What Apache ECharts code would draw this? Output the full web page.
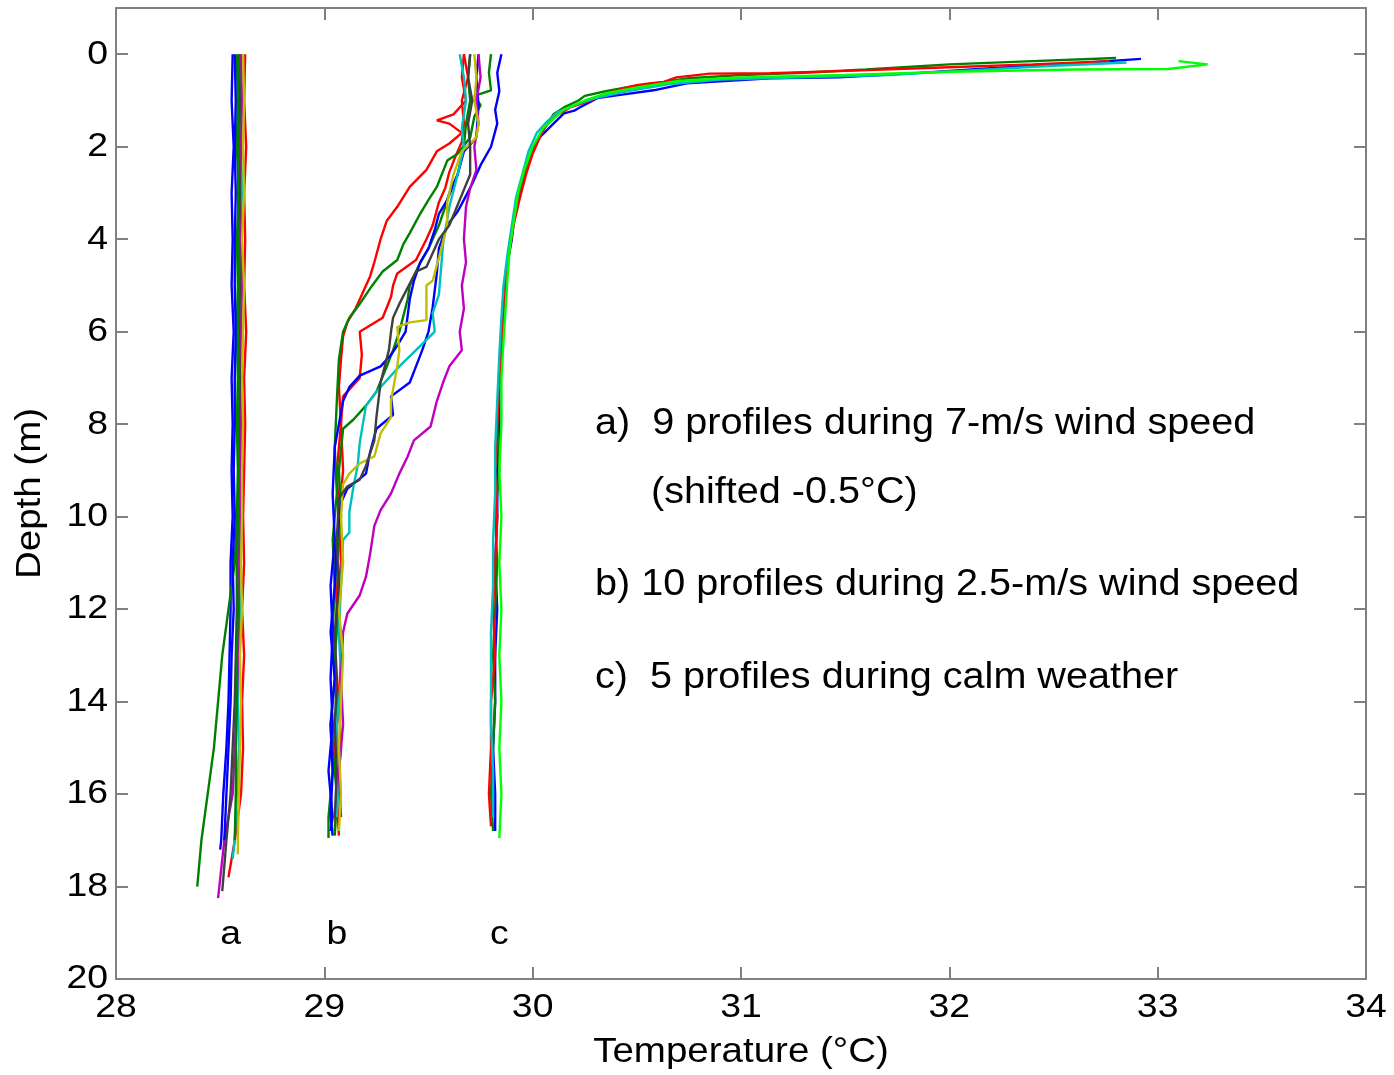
<!DOCTYPE html>
<html lang="en">
<head>
    <meta charset="UTF-8">
    <title>Temperature profiles</title>
    <script src="https://cdn.jsdelivr.net/npm/echarts@6.0.0/dist/echarts.min.js"></script>
    <style>
        html, body { margin: 0; padding: 0; background: #fff; }
    </style>
</head>
<body>
<div id="main" style="width: 1394px;height:1075px;"></div>
<script type="text/javascript">

    // ticks
    var xTicks = [28, 29, 30, 31, 32, 33, 34];
    var yTicks = [0, 2, 4, 6, 8, 10, 12, 14, 16, 18, 20];

    // a) 9 profiles, 7 m/s wind (shifted -0.5 C)  -- [temperature, depth]
    var a1 = [[28.56,0],[28.555,1],[28.565,2],[28.555,3],[28.56,4],[28.555,5],[28.565,6],[28.555,7],[28.56,8],[28.555,9],[28.56,10],[28.55,11],[28.55,12],[28.545,13],[28.54,14],[28.53,15],[28.515,16],[28.505,17],[28.5,17.2]];
    var a2 = [[28.58,0],[28.585,1],[28.58,2],[28.59,3],[28.58,4],[28.585,5],[28.58,6],[28.585,7],[28.58,8],[28.585,9],[28.58,10],[28.57,11],[28.54,12],[28.51,13],[28.49,14],[28.47,15],[28.44,16],[28.41,17],[28.39,18]];
    var a3 = [[28.62,0],[28.615,1],[28.625,2],[28.615,3],[28.62,4],[28.615,5],[28.625,6],[28.615,7],[28.62,8],[28.615,9],[28.61,10],[28.615,11],[28.605,12],[28.615,13],[28.605,14],[28.61,15],[28.6,16],[28.57,17],[28.54,17.8]];
    var a4 = [[28.6,0],[28.595,1],[28.6,2],[28.605,3],[28.595,4],[28.6,5],[28.595,6],[28.6,7],[28.6,8],[28.595,9],[28.6,10],[28.59,11],[28.595,12],[28.59,13],[28.585,14],[28.59,15],[28.58,16],[28.57,17],[28.56,17.4]];
    var a5 = [[28.6,0],[28.605,1],[28.6,2],[28.595,3],[28.6,4],[28.605,5],[28.6,6],[28.595,7],[28.6,8],[28.6,9],[28.595,10],[28.59,11],[28.59,12],[28.585,13],[28.58,14],[28.57,15],[28.56,16],[28.52,17],[28.49,18.25]];
    var a6 = [[28.61,0],[28.615,1],[28.61,2],[28.615,3],[28.605,4],[28.615,5],[28.61,6],[28.605,7],[28.61,8],[28.605,9],[28.605,10],[28.6,11],[28.605,12],[28.595,13],[28.6,14],[28.595,15],[28.59,16],[28.585,17],[28.585,17.3]];
    var a7 = [[28.59,0],[28.595,1],[28.59,2],[28.595,3],[28.59,4],[28.595,5],[28.59,6],[28.595,7],[28.59,8],[28.59,9],[28.585,10],[28.58,11],[28.58,12],[28.575,13],[28.57,14],[28.56,15],[28.55,16],[28.53,17],[28.51,18.1]];
    var a8 = [[28.57,0],[28.575,1],[28.57,2],[28.575,3],[28.57,4],[28.57,5],[28.575,6],[28.57,7],[28.57,8],[28.565,9],[28.57,10],[28.56,11],[28.565,12],[28.555,13],[28.55,14],[28.54,15],[28.53,16],[28.52,17]];
    var a9 = [[28.59,0],[28.585,1],[28.59,2],[28.585,3],[28.59,4],[28.59,5],[28.585,6],[28.59,7],[28.585,8],[28.59,9],[28.585,10],[28.58,11],[28.585,12],[28.58,13],[28.58,14],[28.575,15],[28.575,16],[28.57,17]];

    // b) 10 profiles, 2.5 m/s wind
    var b1 = [[29.67,0],[29.66,0.5],[29.68,1],[29.62,1.3],[29.54,1.43],[29.6,1.5],[29.66,1.7],[29.6,1.93],[29.54,2.1],[29.49,2.5],[29.41,2.87],[29.35,3.3],[29.3,3.6],[29.27,4.0],[29.24,4.5],[29.22,4.8],[29.18,5.2],[29.15,5.5],[29.11,5.8],[29.09,6.1],[29.08,6.6],[29.07,7.2],[29.08,8],[29.06,9],[29.07,10],[29.05,11],[29.06,12],[29.05,13],[29.07,14],[29.05,15],[29.06,16],[29.05,16.8]];
    var b2 = [[29.67,0],[29.69,0.5],[29.66,1],[29.67,1.5],[29.66,1.9],[29.63,2.2],[29.6,2.55],[29.58,2.9],[29.55,3.2],[29.52,3.7],[29.49,4.0],[29.44,4.45],[29.35,4.74],[29.33,5.0],[29.32,5.25],[29.28,5.7],[29.17,6.0],[29.18,6.5],[29.17,7.0],[29.09,7.4],[29.08,8],[29.09,9],[29.07,10],[29.08,11],[29.06,12],[29.08,13],[29.07,14],[29.08,15],[29.06,16],[29.07,16.9]];
    var b3 = [[29.8,0],[29.79,0.4],[29.8,0.78],[29.72,0.9],[29.75,1.1],[29.72,1.35],[29.7,1.8],[29.64,2.15],[29.59,2.3],[29.54,2.87],[29.5,3.15],[29.46,3.45],[29.41,3.87],[29.38,4.1],[29.35,4.45],[29.28,4.7],[29.23,5.0],[29.17,5.4],[29.12,5.7],[29.09,6.0],[29.07,6.6],[29.06,7.5],[29.05,8.5],[29.06,9.5],[29.04,10.5],[29.05,11.5],[29.04,12.5],[29.05,13.5],[29.03,14.5],[29.04,15.5],[29.02,16.5],[29.02,16.95]];
    var b4 = [[29.7,0],[29.69,0.5],[29.7,1.0],[29.68,1.5],[29.67,2.0],[29.64,2.6],[29.6,3.0],[29.58,3.3],[29.55,3.7],[29.5,4.2],[29.45,4.6],[29.41,5.0],[29.4,5.3],[29.36,6.0],[29.33,6.4],[29.3,6.75],[29.25,7.3],[29.2,7.6],[29.14,7.9],[29.09,8.1],[29.07,9],[29.08,10],[29.06,11],[29.07,12],[29.05,13],[29.06,14],[29.04,15],[29.06,16],[29.05,16.9]];
    var b5 = [[29.85,0],[29.83,0.4],[29.84,0.8],[29.82,1.2],[29.83,1.5],[29.8,2.0],[29.75,2.4],[29.71,2.8],[29.67,3.15],[29.64,3.4],[29.59,3.7],[29.55,4.2],[29.54,4.74],[29.52,5.47],[29.5,6.0],[29.47,6.4],[29.44,6.75],[29.41,7.1],[29.32,7.4],[29.33,7.8],[29.25,8.1],[29.22,8.6],[29.2,9.07],[29.11,9.4],[29.08,9.7],[29.06,10.5],[29.05,11.5],[29.03,12.5],[29.05,13.5],[29.03,14.5],[29.04,15.5],[29.03,16.5],[29.04,16.9]];
    var b6 = [[29.74,0],[29.73,0.5],[29.74,1.1],[29.73,1.8],[29.67,2.1],[29.64,2.6],[29.59,3.15],[29.55,3.45],[29.53,3.8],[29.5,4.2],[29.46,4.5],[29.43,4.9],[29.41,5.3],[29.39,6.0],[29.35,6.3],[29.32,6.5],[29.27,6.75],[29.17,6.95],[29.12,7.2],[29.09,7.5],[29.05,8.5],[29.04,9.5],[29.05,10.5],[29.03,11.5],[29.04,12.5],[29.03,13.5],[29.04,14.5],[29.02,15.5],[29.04,16.5],[29.03,16.8]];
    var b7 = [[29.65,0],[29.67,0.5],[29.68,1.0],[29.66,1.6],[29.67,2.0],[29.64,2.6],[29.6,3.3],[29.57,4.1],[29.55,5.2],[29.52,5.6],[29.53,6.0],[29.44,6.4],[29.36,6.75],[29.25,7.3],[29.2,7.6],[29.17,8.4],[29.16,8.9],[29.14,9.35],[29.12,9.9],[29.12,10.35],[29.09,10.5],[29.08,11.5],[29.07,12.5],[29.08,13.5],[29.06,14.5],[29.07,15.5],[29.06,16.5]];
    var b8 = [[29.74,0],[29.75,0.5],[29.73,1.0],[29.74,1.5],[29.72,2.0],[29.73,2.5],[29.7,2.9],[29.68,3.3],[29.67,4.0],[29.68,4.5],[29.66,5.0],[29.67,5.5],[29.65,6.0],[29.66,6.4],[29.6,6.75],[29.57,7.1],[29.54,7.5],[29.51,8.05],[29.43,8.35],[29.4,8.7],[29.36,9.07],[29.32,9.5],[29.27,9.86],[29.24,10.2],[29.22,10.8],[29.2,11.3],[29.17,11.7],[29.11,12.1],[29.09,12.5],[29.08,13.5],[29.09,14.5],[29.07,15.5],[29.08,16.5]];
    var b9 = [[29.72,0],[29.73,0.5],[29.72,1.0],[29.74,1.5],[29.73,1.8],[29.66,2.1],[29.62,2.6],[29.59,3.2],[29.59,3.7],[29.55,4.4],[29.52,4.9],[29.49,5.0],[29.49,5.75],[29.41,5.8],[29.35,5.9],[29.36,6.4],[29.35,6.75],[29.32,7.5],[29.32,7.85],[29.27,8.2],[29.24,8.7],[29.17,8.85],[29.12,9.07],[29.09,9.3],[29.08,10],[29.09,11],[29.07,12],[29.09,13],[29.08,14],[29.07,15],[29.08,16],[29.07,16.8]];
    var b10 = [[29.7,0],[29.69,0.5],[29.71,1.0],[29.69,1.5],[29.7,2.0],[29.7,2.6],[29.65,3.15],[29.6,3.7],[29.55,4.0],[29.49,4.6],[29.44,4.7],[29.36,5.4],[29.33,5.7],[29.32,6.0],[29.31,6.4],[29.27,7.1],[29.25,7.85],[29.24,8.35],[29.2,8.9],[29.17,9.2],[29.11,9.35],[29.07,9.6],[29.06,10.5],[29.07,11.5],[29.05,12.5],[29.06,13.5],[29.05,14.5],[29.06,15.5],[29.05,16.5]];

    // c) 5 profiles, calm weather
    var c1 = [[32.92,0.1],[32.6,0.2],[32.2,0.3],[31.8,0.42],[31.47,0.5],[31.14,0.52],[30.74,0.63],[30.58,0.78],[30.42,0.88],[30.31,0.95],[30.23,1.14],[30.2,1.22],[30.15,1.28],[30.1,1.5],[30.02,1.86],[29.97,2.36],[29.94,3.0],[29.91,3.6],[29.9,4.0],[29.87,4.74],[29.86,5.47],[29.85,6.1],[29.84,7],[29.84,8],[29.83,9],[29.83,10],[29.82,11],[29.83,12],[29.82,13],[29.82,14],[29.81,15],[29.82,16],[29.82,16.8]];
    var c2 = [[32.8,0.08],[32.4,0.15],[32.0,0.22],[31.6,0.33],[31.3,0.4],[31.0,0.45],[30.75,0.52],[30.6,0.62],[30.45,0.72],[30.35,0.8],[30.25,0.9],[30.22,1.0],[30.15,1.15],[30.1,1.3],[30.07,1.5],[30.03,1.8],[30.0,2.1],[29.96,2.6],[29.93,3.1],[29.91,3.6],[29.89,4.1],[29.87,4.74],[29.86,5.5],[29.85,6.2],[29.84,7],[29.83,8],[29.84,9],[29.82,10],[29.83,11],[29.82,12],[29.81,13],[29.82,14],[29.81,15],[29.8,16],[29.81,16.8]];
    var c3 = [[32.77,0.15],[32.4,0.22],[32.0,0.28],[31.5,0.36],[31.14,0.41],[30.85,0.42],[30.69,0.5],[30.63,0.6],[30.56,0.63],[30.5,0.67],[30.43,0.74],[30.34,0.88],[30.26,1.03],[30.18,1.15],[30.1,1.36],[30.05,1.64],[30.0,2.15],[29.97,2.57],[29.94,3.08],[29.91,3.66],[29.89,4.2],[29.87,4.9],[29.86,5.6],[29.85,6.3],[29.84,7],[29.83,8],[29.82,9],[29.83,10],[29.82,11],[29.81,12],[29.82,13],[29.8,14],[29.8,15],[29.79,16],[29.8,16.7]];
    var c4 = [[32.85,0.18],[32.5,0.25],[32.1,0.35],[31.7,0.45],[31.3,0.5],[30.9,0.55],[30.65,0.65],[30.45,0.8],[30.3,0.95],[30.2,1.1],[30.12,1.25],[30.07,1.45],[30.02,1.7],[29.98,2.1],[29.95,2.6],[29.92,3.1],[29.9,3.7],[29.88,4.3],[29.86,5.0],[29.85,5.7],[29.84,6.5],[29.83,7.5],[29.82,8.5],[29.82,9.5],[29.81,10.5],[29.81,11.5],[29.8,12.5],[29.8,13.5],[29.8,14.5],[29.81,15.5],[29.81,16.5]];
    var c5 = [[33.1,0.15],[33.24,0.22],[33.05,0.32],[32.6,0.33],[32.0,0.38],[31.5,0.45],[31.0,0.5],[30.7,0.58],[30.5,0.72],[30.35,0.85],[30.25,1.0],[30.15,1.2],[30.1,1.4],[30.05,1.6],[30.0,2.0],[29.96,2.5],[29.93,3.0],[29.91,3.6],[29.89,4.2],[29.88,4.8],[29.87,5.5],[29.86,6.2],[29.85,7],[29.85,8],[29.84,9],[29.85,10],[29.84,11],[29.85,12],[29.84,13],[29.85,14],[29.84,15],[29.85,16],[29.84,16.95]];

    var groupLabels = ['a', 'b', 'c'];
    var groupLabelPos = [[28.55, 19.05], [29.06, 19.05], [29.84, 19.05]];

    var notes = [
        'a)  9 profiles during 7-m/s wind speed',
        '(shifted -0.5°C)',
        'b) 10 profiles during 2.5-m/s wind speed',
        'c)  5 profiles during calm weather'
    ];

    var profiles = [
        [a1, '#0000ff'], [a2, '#008000'], [a3, '#ff0000'], [a4, '#00bfbf'], [a5, '#bf00bf'],
        [a6, '#bfbf00'], [a7, '#404040'], [a8, '#0000ff'], [a9, '#008000'],
        [b1, '#ff0000'], [b2, '#ff0000'], [b3, '#008000'], [b4, '#008000'], [b5, '#0000ff'],
        [b6, '#0000ff'], [b7, '#00bfbf'], [b8, '#bf00bf'], [b9, '#bfbf00'], [b10, '#404040'],
        [c1, '#0000ff'], [c2, '#008000'], [c3, '#ff0000'], [c4, '#00bfbf'], [c5, '#00ff00']
    ];

    var FONT = 'Arial, "Liberation Sans", sans-serif';
    var AXIS_COLOR = '#808080';
    var SX = 1.1; // text in the figure is a bit wider than plain Arial

    var series = profiles.map(function (p) {
        return {
            type: 'line',
            data: p[0],
            showSymbol: false,
            symbol: 'none',
            lineStyle: {color: p[1], width: 2.4},
            animation: false,
            z: 3
        };
    });

    function boxAxis(extra) {
        var base = {
            type: 'value',
            axisLine: {show: true, onZero: false, lineStyle: {color: AXIS_COLOR, width: 2}},
            axisTick: {show: true, inside: true, length: 12, lineStyle: {color: AXIS_COLOR, width: 2}},
            axisLabel: {show: false},
            splitLine: {show: false}
        };
        return Object.assign(base, extra);
    }

    var yTickStyle = {show: true, inside: true, length: 12, customValues: yTicks, lineStyle: {color: AXIS_COLOR, width: 2}};

    var myChart = echarts.init(document.getElementById('main'));

    var option = {
        backgroundColor: '#fff',
        animation: false,
        grid: {left: 116, right: 28, top: 8, bottom: 96, containLabel: false},
        xAxis: [
            boxAxis({position: 'bottom', min: 28, max: 34, interval: 1}),
            boxAxis({position: 'top', min: 28, max: 34, interval: 1})
        ],
        yAxis: [
            boxAxis({position: 'left', min: -1, max: 20, inverse: true, axisTick: yTickStyle}),
            boxAxis({position: 'right', min: -1, max: 20, inverse: true, axisTick: yTickStyle})
        ],
        series: series
    };

    myChart.setOption(option);

    // text is drawn as graphic elements so it can be widened like the original
    function txt(text, x, y, size, align, vAlign, rot) {
        return {
            type: 'text', x: x, y: y, scaleX: SX, rotation: rot || 0, z: 10,
            style: {text: text, font: size + 'px ' + FONT, fill: '#000', align: align, verticalAlign: vAlign}
        };
    }

    var g = [];
    xTicks.forEach(function (v) {
        var p = myChart.convertToPixel({xAxisIndex: 0, yAxisIndex: 0}, [v, 20]);
        g.push(txt(String(v), p[0], p[1] + 29, 34, 'center', 'middle'));
    });
    yTicks.forEach(function (v) {
        var p = myChart.convertToPixel({xAxisIndex: 0, yAxisIndex: 0}, [28, v]);
        g.push(txt(String(v), p[0] - 8, p[1], 34, 'right', 'middle'));
    });
    groupLabels.forEach(function (s, i) {
        var p = myChart.convertToPixel({xAxisIndex: 0, yAxisIndex: 0}, groupLabelPos[i]);
        g.push(txt(s, p[0], p[1], 34, 'center', 'middle'));
    });
    var bottomMid = myChart.convertToPixel({xAxisIndex: 0, yAxisIndex: 0}, [31, 20]);
    g.push(txt('Temperature (°C)', bottomMid[0], bottomMid[1] + 73, 35, 'center', 'middle'));
    var leftMid = myChart.convertToPixel({xAxisIndex: 0, yAxisIndex: 0}, [28, 9.5]);
    g.push(txt('Depth (m)', leftMid[0] - 86, leftMid[1], 35, 'center', 'middle', Math.PI / 2));

    g.push(txt(notes[0], 595, 424, 36, 'left', 'middle'));
    g.push(txt(notes[1], 651, 493, 36, 'left', 'middle'));
    g.push(txt(notes[2], 595, 585, 36, 'left', 'middle'));
    g.push(txt(notes[3], 595, 678, 36, 'left', 'middle'));

    myChart.setOption({graphic: g});

</script>
</body>
</html>
